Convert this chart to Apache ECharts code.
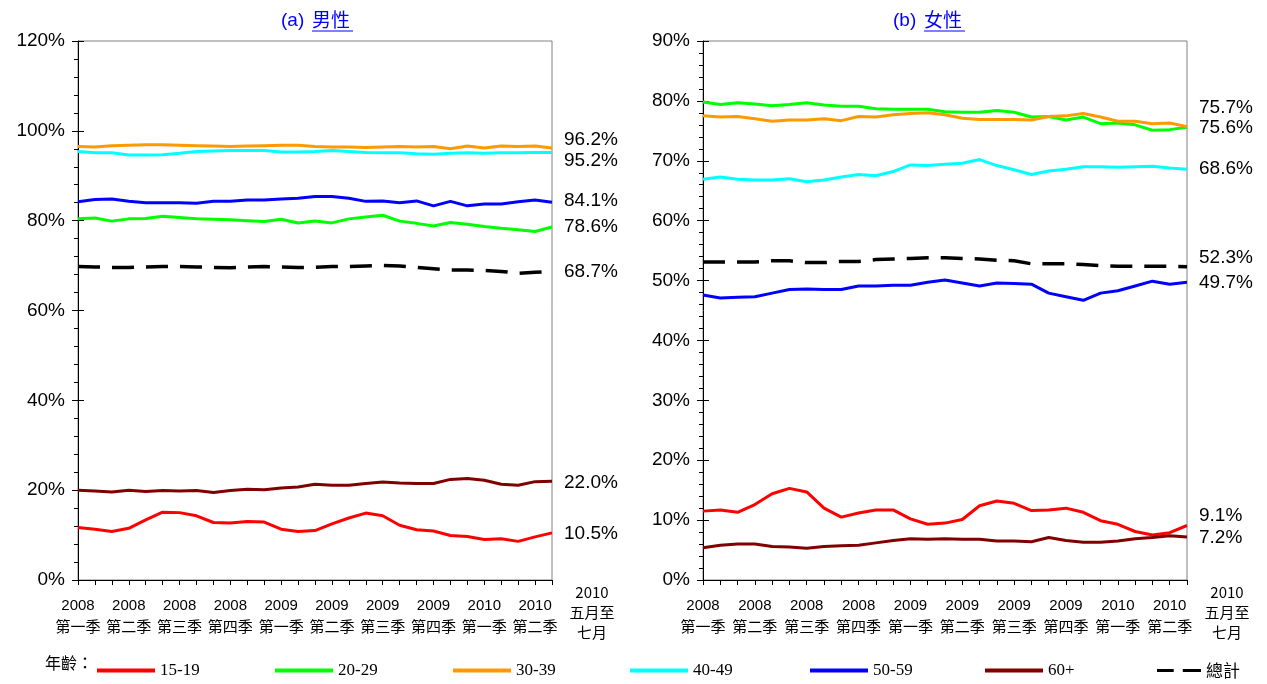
<!DOCTYPE html>
<html><head><meta charset="utf-8">
<script src="https://cdn.jsdelivr.net/npm/echarts@6/dist/echarts.min.js"></script>
<style>html,body{margin:0;padding:0;background:#fff}#c{width:1267px;height:684px}</style>
</head><body><div id="c"></div><script>
// 3-month moving periods
const periods = ['2008年1-3月','2008年2-4月','2008年3-5月','2008年4-6月','2008年5-7月','2008年6-8月','2008年7-9月','2008年8-10月','2008年9-11月','2008年10-12月','2008年11月-2009年1月','2008年12月-2009年2月','2009年1-3月','2009年2-4月','2009年3-5月','2009年4-6月','2009年5-7月','2009年6-8月','2009年7-9月','2009年8-10月','2009年9-11月','2009年10-12月','2009年11月-2010年1月','2009年12月-2010年2月','2010年1-3月','2010年2-4月','2010年3-5月','2010年4-6月','2010年5-7月'];
const xTickYears    = ['2008','','','2008','','','2008','','','2008','','','2009','','','2009','','','2009','','','2009','','','2010','','','2010',''];
const xTickQuarters = ['第一季','','','第二季','','','第三季','','','第四季','','','第一季','','','第二季','','','第三季','','','第四季','','','第一季','','','第二季',''];
const lastPeriodLabel = '2010\n五月至\n七月';
const seriesNames = ['15-19','20-29','30-39','40-49','50-59','60+','總計'];
const seriesColors = ['#FF0000','#00FF00','#FF9900','#00FFFF','#0000FF','#800000','#000000'];

const male_15_19 = [11.7,11.3,10.8,11.5,13.4,15.1,15.0,14.3,12.8,12.7,13.0,12.9,11.3,10.8,11.0,12.5,13.8,14.9,14.3,12.2,11.2,10.9,9.9,9.7,9.0,9.2,8.6,9.6,10.5];
const male_20_29 = [80.4,80.6,79.9,80.4,80.5,81.0,80.7,80.4,80.3,80.2,80.0,79.8,80.3,79.5,79.9,79.5,80.4,80.8,81.2,79.9,79.4,78.8,79.6,79.2,78.7,78.3,78.0,77.6,78.6];
const male_30_39 = [96.5,96.4,96.7,96.8,96.9,96.9,96.8,96.7,96.6,96.5,96.6,96.7,96.8,96.8,96.5,96.4,96.4,96.3,96.4,96.5,96.4,96.5,96.0,96.6,96.2,96.6,96.5,96.6,96.2];
const male_40_49 = [95.4,95.1,95.1,94.6,94.6,94.7,95.0,95.4,95.5,95.6,95.6,95.6,95.3,95.3,95.4,95.6,95.4,95.2,95.1,95.1,94.9,94.8,95.0,95.1,95.0,95.1,95.1,95.2,95.2];
const male_50_59 = [84.2,84.7,84.8,84.3,84.0,84.0,84.0,83.9,84.3,84.3,84.6,84.6,84.8,85.0,85.4,85.4,85.0,84.3,84.4,84.0,84.4,83.3,84.3,83.3,83.7,83.7,84.2,84.6,84.1];
const male_60p   = [20.0,19.8,19.6,20.0,19.7,19.9,19.8,19.9,19.5,19.9,20.2,20.1,20.5,20.7,21.3,21.1,21.1,21.5,21.8,21.6,21.5,21.5,22.4,22.6,22.2,21.3,21.1,21.9,22.0];
const male_total = [69.8,69.7,69.6,69.6,69.7,69.8,69.8,69.7,69.6,69.5,69.7,69.8,69.7,69.6,69.6,69.8,69.8,69.9,70.0,69.9,69.6,69.3,69.0,69.0,68.9,68.7,68.3,68.5,68.7];

const female_15_19 = [11.5,11.7,11.3,12.6,14.4,15.3,14.7,12.0,10.5,11.2,11.7,11.7,10.2,9.3,9.5,10.1,12.4,13.2,12.8,11.6,11.7,12.0,11.3,9.9,9.3,8.1,7.5,7.9,9.1];
const female_20_29 = [79.8,79.4,79.7,79.5,79.2,79.4,79.7,79.3,79.1,79.1,78.7,78.6,78.6,78.6,78.2,78.1,78.1,78.4,78.1,77.3,77.4,76.8,77.3,76.2,76.3,76.0,75.1,75.2,75.6];
const female_30_39 = [77.5,77.3,77.4,77.0,76.6,76.8,76.8,77.0,76.7,77.4,77.3,77.7,77.9,78.0,77.7,77.1,76.9,76.9,76.9,76.8,77.4,77.5,77.9,77.3,76.6,76.6,76.2,76.3,75.7];
const female_40_49 = [66.9,67.3,66.9,66.8,66.8,67.0,66.5,66.8,67.3,67.7,67.5,68.2,69.3,69.2,69.4,69.6,70.2,69.2,68.5,67.7,68.3,68.6,69.0,69.0,68.9,69.0,69.1,68.8,68.6];
const female_50_59 = [47.6,47.1,47.2,47.3,47.9,48.5,48.6,48.5,48.5,49.1,49.1,49.2,49.2,49.7,50.1,49.6,49.1,49.6,49.5,49.4,47.9,47.3,46.7,47.9,48.3,49.1,49.9,49.4,49.7];
const female_60p   = [5.4,5.8,6.0,6.0,5.6,5.5,5.3,5.6,5.7,5.8,6.2,6.6,6.9,6.8,6.9,6.8,6.8,6.5,6.5,6.4,7.1,6.6,6.3,6.3,6.5,6.9,7.1,7.4,7.2];
const female_total = [53.1,53.1,53.1,53.1,53.3,53.3,53.0,53.0,53.2,53.2,53.5,53.6,53.7,53.8,53.8,53.7,53.6,53.4,53.3,52.8,52.8,52.8,52.7,52.5,52.4,52.4,52.4,52.4,52.3];

const maleSeries = [male_15_19, male_20_29, male_30_39, male_40_49, male_50_59, male_60p, male_total];
const femaleSeries = [female_15_19, female_20_29, female_30_39, female_40_49, female_50_59, female_60p, female_total];
// vertical nudges of end labels to avoid overlap
const maleLabelShift   = [1, 0, -8, 8, -1, 2, 0];
const femaleLabelShift = [-10, 1, -19, 0, 0, 1, -9];
// legend item left edges
const legendLefts = [97, 275, 453, 630, 810, 985, 1157];

const FONT = 'Liberation Sans, Arial, sans-serif';
const CJK = 'Noto Sans CJK TC, sans-serif';
const SERIF = 'Liberation Serif, Times New Roman, serif';

const chart = echarts.init(document.getElementById('c'), null, {renderer: 'canvas'});

function makeX(gridIndex) {
  return {
    type: 'category', gridIndex, data: periods, boundaryGap: false,
    axisLine: {lineStyle: {color: '#000', width: 1}},
    axisTick: {show: true, interval: 0, length: 5, lineStyle: {color: '#000'}},
    axisLabel: {
      interval: (i) => xTickYears[i] !== '',
      margin: 16,
      formatter: (v, i) => '{y|' + xTickYears[i] + '}\n{q|' + xTickQuarters[i] + '}',
      rich: {
        y: {fontFamily: FONT, fontSize: 15, color: '#000', lineHeight: 20},
        q: {fontFamily: CJK, fontSize: 15, color: '#000', lineHeight: 20}
      }
    },
    splitLine: {show: false}
  };
}
function makeY(gridIndex, max, interval, ticksOnly) {
  return {
    type: 'value', gridIndex, min: 0, max, interval, position: 'left',
    axisLine: {show: !ticksOnly, lineStyle: {color: '#000', width: 1}},
    axisTick: {show: true, inside: !!ticksOnly, length: 6, lineStyle: {color: '#000'}},
    minorTick: {show: !ticksOnly, splitNumber: 5, length: 4, lineStyle: {color: '#000'}},
    axisLabel: {show: !ticksOnly, fontFamily: FONT, fontSize: 19, color: '#000', margin: 13, formatter: '{value}%'},
    splitLine: {show: false}
  };
}

const series = [];
[maleSeries, femaleSeries].forEach((set, g) => {
  set.forEach((data, k) => {
    const shift = (g === 0 ? maleLabelShift : femaleLabelShift)[k];
    series.push({
      name: seriesNames[k], type: 'line', xAxisIndex: g, yAxisIndex: g,
      data, symbol: 'none', showSymbol: false, smooth: false,
      color: seriesColors[k],
      lineStyle: {color: seriesColors[k], width: k === 6 ? 3.5 : 3, type: k === 6 ? [22, 12] : 'solid'},
      emphasis: {disabled: true},
      endLabel: {
        show: true, distance: 12, offset: [0, shift],
        formatter: (p) => p.value.toFixed(1) + '%',
        fontFamily: FONT, fontSize: 19, color: '#000'
      },
      z: k === 6 ? 3 : 2
    });
  });
});

const solidIcon = 'path://M0,0H58V4H0Z';
const dashIcon = 'path://M0,0H22V4H0Z M34,0H58V4H34Z';

const legends = seriesNames.map((n, k) => ({
  data: [{name: n, icon: k === 6 ? dashIcon : solidIcon}],
  left: legendLefts[k], top: 662, padding: 0,
  itemWidth: k === 6 ? 44 : 58, itemHeight: 4, itemGap: 0,
  selectedMode: false,
  textStyle: {fontFamily: k === 6 ? CJK : SERIF, fontSize: 17, color: '#000'}
}));

chart.setOption({
  animation: false,
  backgroundColor: '#fff',
  grid: [
    {left: 78, right: 715, top: 41, bottom: 104, show: true, borderColor: '#808080', borderWidth: 1},
    {left: 703, right: 80, top: 41, bottom: 104, show: true, borderColor: '#808080', borderWidth: 1}
  ],
  xAxis: [makeX(0), makeX(1)],
  yAxis: [makeY(0, 120, 20, false), makeY(1, 90, 10, false), makeY(0, 120, 20, true), makeY(1, 90, 10, true)],
  legend: legends,
  series
});

// label for the last (partial) period, placed to the right of the final tick
const lastIdx = periods.length - 1;
const graphics = [
  {type: 'text', left: 281, top: 11, style: {text: '(a) ', fontFamily: FONT, fontSize: 19, fill: '#0000FF'}},
  {type: 'text', left: 312, top: 10, style: {text: '男性', fontFamily: CJK, fontSize: 19, fill: '#0000FF'}},
  {type: 'line', shape: {x1: 312, y1: 31, x2: 353, y2: 31}, style: {stroke: '#0000FF', lineWidth: 1}},
  {type: 'text', left: 893, top: 11, style: {text: '(b) ', fontFamily: FONT, fontSize: 19, fill: '#0000FF'}},
  {type: 'text', left: 924, top: 10, style: {text: '女性', fontFamily: CJK, fontSize: 19, fill: '#0000FF'}},
  {type: 'line', shape: {x1: 924, y1: 31, x2: 965, y2: 31}, style: {stroke: '#0000FF', lineWidth: 1}},
  {type: 'text', left: 45, top: 655, style: {text: '年齡：', fontFamily: CJK, fontSize: 16, fill: '#000'}}
];
[0, 1].forEach(g => {
  const px = chart.convertToPixel({xAxisIndex: g}, periods[lastIdx]);
  graphics.push({
    type: 'text', x: px + 40, y: 582,
    style: {text: lastPeriodLabel, fontFamily: CJK, fontSize: 15, lineHeight: 20, fill: '#000', align: 'center', verticalAlign: 'top'}
  });
});
chart.setOption({graphic: graphics});
</script></body></html>
